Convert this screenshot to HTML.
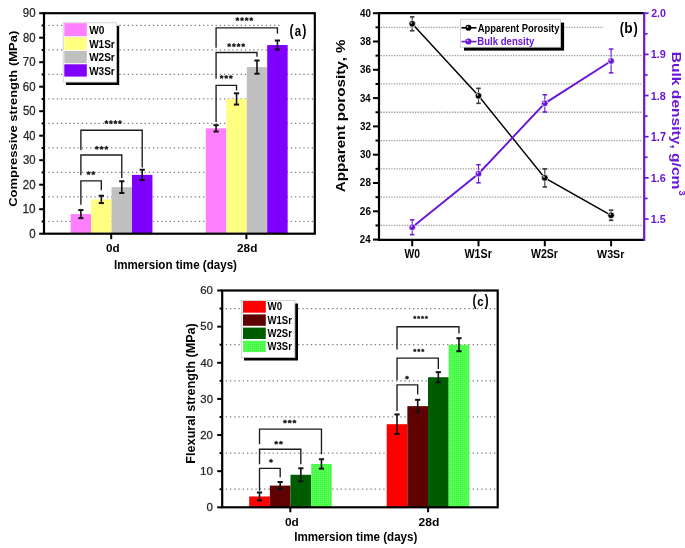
<!DOCTYPE html>
<html><head><meta charset="utf-8"><style>
html,body{margin:0;padding:0;background:#fff;}
body{width:685px;height:548px;overflow:hidden;}
svg{display:block;will-change:transform;filter:blur(0.3px);font-family:"Liberation Sans", sans-serif;font-kerning:none;}
</style></head><body>
<svg width="685" height="548" viewBox="0 0 685 548">
<defs><path id="st" d="M492 1135 727 1239 795 1042 545 981 731 768 547 647 401 899 252 647 66 770 256 981 6 1042 74 1239 313 1135 295 1409H510Z" fill="#111" stroke="#111" stroke-linejoin="round"/>
<pattern id="pW1" patternUnits="userSpaceOnUse" width="3" height="3"><rect width="3" height="3" fill="#5e0101"/><rect x="1" width="1" height="3" fill="#620202"/></pattern>
<pattern id="pW3" patternUnits="userSpaceOnUse" width="2" height="2"><rect width="2" height="2" fill="#55ff55"/><rect width="1" height="1" fill="#3ef23e"/></pattern>
</defs>
<rect width="685" height="548" fill="#fff"/>
<line x1="48.34" y1="221.45" x2="313.3" y2="221.45" stroke="#847c8c" stroke-width="1.25" stroke-dasharray="1.35 2.83"/>
<line x1="48.34" y1="196.95" x2="313.3" y2="196.95" stroke="#847c8c" stroke-width="1.25" stroke-dasharray="1.35 2.83"/>
<line x1="48.34" y1="172.45" x2="313.3" y2="172.45" stroke="#847c8c" stroke-width="1.25" stroke-dasharray="1.35 2.83"/>
<line x1="48.34" y1="147.95" x2="313.3" y2="147.95" stroke="#847c8c" stroke-width="1.25" stroke-dasharray="1.35 2.83"/>
<line x1="48.34" y1="123.45" x2="313.3" y2="123.45" stroke="#847c8c" stroke-width="1.25" stroke-dasharray="1.35 2.83"/>
<line x1="48.34" y1="98.95" x2="313.3" y2="98.95" stroke="#847c8c" stroke-width="1.25" stroke-dasharray="1.35 2.83"/>
<line x1="48.34" y1="74.45" x2="313.3" y2="74.45" stroke="#847c8c" stroke-width="1.25" stroke-dasharray="1.35 2.83"/>
<line x1="48.34" y1="49.95" x2="313.3" y2="49.95" stroke="#847c8c" stroke-width="1.25" stroke-dasharray="1.35 2.83"/>
<line x1="48.34" y1="25.45" x2="313.3" y2="25.45" stroke="#847c8c" stroke-width="1.25" stroke-dasharray="1.35 2.83"/>
<rect x="70.65" y="214.1" width="20.45" height="19.6" fill="#FF80FF"/>
<rect x="91.1" y="199.4" width="20.45" height="34.3" fill="#FFFF80"/>
<rect x="111.55" y="187.15" width="20.45" height="46.55" fill="#C0C0C0"/>
<rect x="132" y="174.9" width="20.45" height="58.8" fill="#8000FF"/>
<rect x="205.85" y="128.35" width="20.45" height="105.35" fill="#FF80FF"/>
<rect x="226.3" y="98.95" width="20.45" height="134.75" fill="#FFFF80"/>
<rect x="246.75" y="67.1" width="20.45" height="166.6" fill="#C0C0C0"/>
<rect x="267.2" y="45.05" width="20.45" height="188.65" fill="#8000FF"/>
<line x1="80.88" y1="210.06" x2="80.88" y2="218.14" stroke="#111" stroke-width="1.6"/>
<line x1="78.28" y1="210.06" x2="83.47" y2="210.06" stroke="#111" stroke-width="2"/>
<line x1="78.28" y1="218.14" x2="83.47" y2="218.14" stroke="#111" stroke-width="2"/>
<line x1="101.32" y1="195.72" x2="101.32" y2="203.07" stroke="#111" stroke-width="1.6"/>
<line x1="98.72" y1="195.72" x2="103.92" y2="195.72" stroke="#111" stroke-width="2"/>
<line x1="98.72" y1="203.07" x2="103.92" y2="203.07" stroke="#111" stroke-width="2"/>
<line x1="121.77" y1="181.27" x2="121.77" y2="193.03" stroke="#111" stroke-width="1.6"/>
<line x1="119.17" y1="181.27" x2="124.37" y2="181.27" stroke="#111" stroke-width="2"/>
<line x1="119.17" y1="193.03" x2="124.37" y2="193.03" stroke="#111" stroke-width="2"/>
<line x1="142.22" y1="169.75" x2="142.22" y2="180.04" stroke="#111" stroke-width="1.6"/>
<line x1="139.62" y1="169.75" x2="144.82" y2="169.75" stroke="#111" stroke-width="2"/>
<line x1="139.62" y1="180.04" x2="144.82" y2="180.04" stroke="#111" stroke-width="2"/>
<line x1="216.07" y1="125.16" x2="216.07" y2="131.53" stroke="#111" stroke-width="1.6"/>
<line x1="213.47" y1="125.16" x2="218.67" y2="125.16" stroke="#111" stroke-width="2"/>
<line x1="213.47" y1="131.53" x2="218.67" y2="131.53" stroke="#111" stroke-width="2"/>
<line x1="236.53" y1="93.31" x2="236.53" y2="104.58" stroke="#111" stroke-width="1.6"/>
<line x1="233.93" y1="93.31" x2="239.12" y2="93.31" stroke="#111" stroke-width="2"/>
<line x1="233.93" y1="104.58" x2="239.12" y2="104.58" stroke="#111" stroke-width="2"/>
<line x1="256.98" y1="60.48" x2="256.98" y2="73.71" stroke="#111" stroke-width="1.6"/>
<line x1="254.38" y1="60.48" x2="259.58" y2="60.48" stroke="#111" stroke-width="2"/>
<line x1="254.38" y1="73.71" x2="259.58" y2="73.71" stroke="#111" stroke-width="2"/>
<line x1="277.43" y1="40.52" x2="277.43" y2="49.58" stroke="#111" stroke-width="1.6"/>
<line x1="274.82" y1="40.52" x2="280.03" y2="40.52" stroke="#111" stroke-width="2"/>
<line x1="274.82" y1="49.58" x2="280.03" y2="49.58" stroke="#111" stroke-width="2"/>
<polyline points="80.88,204.7 80.88,180.8 101.32,180.8 101.32,190.2" fill="none" stroke="#1c1c1c" stroke-width="1.35"/>
<polyline points="80.88,175.3 80.88,155 121.77,155 121.77,178" fill="none" stroke="#1c1c1c" stroke-width="1.35"/>
<polyline points="80.88,150.1 80.88,130.2 142.22,130.2 142.22,167.6" fill="none" stroke="#1c1c1c" stroke-width="1.35"/>
<use href="#st" transform="translate(86.82,177.52) scale(0.00444,-0.00420)" stroke-width="115.8"/>
<use href="#st" transform="translate(91.52,177.52) scale(0.00444,-0.00420)" stroke-width="115.8"/>
<use href="#st" transform="translate(95.02,152.22) scale(0.00444,-0.00420)" stroke-width="115.8"/>
<use href="#st" transform="translate(99.77,152.22) scale(0.00444,-0.00420)" stroke-width="115.8"/>
<use href="#st" transform="translate(104.52,152.22) scale(0.00444,-0.00420)" stroke-width="115.8"/>
<use href="#st" transform="translate(104.62,126.52) scale(0.00444,-0.00420)" stroke-width="115.8"/>
<use href="#st" transform="translate(109.12,126.52) scale(0.00444,-0.00420)" stroke-width="115.8"/>
<use href="#st" transform="translate(113.62,126.52) scale(0.00444,-0.00420)" stroke-width="115.8"/>
<use href="#st" transform="translate(118.12,126.52) scale(0.00444,-0.00420)" stroke-width="115.8"/>
<polyline points="216.07,122 216.07,85.3 236.53,85.3 236.53,90.5" fill="none" stroke="#1c1c1c" stroke-width="1.35"/>
<polyline points="216.07,78.8 216.07,52.5 256.98,52.5 256.98,56.8" fill="none" stroke="#1c1c1c" stroke-width="1.35"/>
<polyline points="216.07,47.8 216.07,27.8 277.43,27.8 277.43,33.7" fill="none" stroke="#1c1c1c" stroke-width="1.35"/>
<use href="#st" transform="translate(219.82,81.32) scale(0.00444,-0.00420)" stroke-width="115.8"/>
<use href="#st" transform="translate(224.42,81.32) scale(0.00444,-0.00420)" stroke-width="115.8"/>
<use href="#st" transform="translate(229.02,81.32) scale(0.00444,-0.00420)" stroke-width="115.8"/>
<use href="#st" transform="translate(227.42,49.52) scale(0.00444,-0.00420)" stroke-width="115.8"/>
<use href="#st" transform="translate(232.09,49.52) scale(0.00444,-0.00420)" stroke-width="115.8"/>
<use href="#st" transform="translate(236.76,49.52) scale(0.00444,-0.00420)" stroke-width="115.8"/>
<use href="#st" transform="translate(241.43,49.52) scale(0.00444,-0.00420)" stroke-width="115.8"/>
<use href="#st" transform="translate(235.62,23.52) scale(0.00444,-0.00420)" stroke-width="115.8"/>
<use href="#st" transform="translate(240.25,23.52) scale(0.00444,-0.00420)" stroke-width="115.8"/>
<use href="#st" transform="translate(244.88,23.52) scale(0.00444,-0.00420)" stroke-width="115.8"/>
<use href="#st" transform="translate(249.51,23.52) scale(0.00444,-0.00420)" stroke-width="115.8"/>
<rect x="66" y="25.8" width="53.2" height="59.2" fill="#000"/>
<rect x="63.2" y="22.8" width="53.2" height="59.3" fill="#fff" stroke="#c8c8c8" stroke-width="0.8"/>
<rect x="64.3" y="23.2" width="22.5" height="13" fill="#FF80FF"/>
<text transform="translate(89.19,34) scale(1.0122,1)" font-size="10.03" font-weight="bold" fill="#000">W0</text>
<rect x="64.3" y="37.3" width="22.5" height="12.6" fill="#FFFF80"/>
<text transform="translate(89.19,47.9) scale(0.9972,1)" font-size="10.03" font-weight="bold" fill="#000">W1Sr</text>
<rect x="64.3" y="50.9" width="22.5" height="12.3" fill="#C0C0C0"/>
<text transform="translate(89.19,61.35) scale(0.9972,1)" font-size="10.03" font-weight="bold" fill="#000">W2Sr</text>
<rect x="64.3" y="64.3" width="22.5" height="12.3" fill="#8000FF"/>
<text transform="translate(89.19,74.74) scale(0.9992,1)" font-size="10.01" font-weight="bold" fill="#000">W3Sr</text>
<rect x="44" y="13.2" width="270.8" height="220.5" fill="none" stroke="#000" stroke-width="2.2"/>
<line x1="39.2" y1="233.7" x2="44" y2="233.7" stroke="#000" stroke-width="2"/>
<line x1="39.2" y1="209.2" x2="44" y2="209.2" stroke="#000" stroke-width="2"/>
<line x1="39.2" y1="184.7" x2="44" y2="184.7" stroke="#000" stroke-width="2"/>
<line x1="39.2" y1="160.2" x2="44" y2="160.2" stroke="#000" stroke-width="2"/>
<line x1="39.2" y1="135.7" x2="44" y2="135.7" stroke="#000" stroke-width="2"/>
<line x1="39.2" y1="111.2" x2="44" y2="111.2" stroke="#000" stroke-width="2"/>
<line x1="39.2" y1="86.7" x2="44" y2="86.7" stroke="#000" stroke-width="2"/>
<line x1="39.2" y1="62.2" x2="44" y2="62.2" stroke="#000" stroke-width="2"/>
<line x1="39.2" y1="37.7" x2="44" y2="37.7" stroke="#000" stroke-width="2"/>
<line x1="39.2" y1="13.2" x2="44" y2="13.2" stroke="#000" stroke-width="2"/>
<line x1="41.6" y1="221.45" x2="44" y2="221.45" stroke="#000" stroke-width="2"/>
<line x1="41.6" y1="196.95" x2="44" y2="196.95" stroke="#000" stroke-width="2"/>
<line x1="41.6" y1="172.45" x2="44" y2="172.45" stroke="#000" stroke-width="2"/>
<line x1="41.6" y1="147.95" x2="44" y2="147.95" stroke="#000" stroke-width="2"/>
<line x1="41.6" y1="123.45" x2="44" y2="123.45" stroke="#000" stroke-width="2"/>
<line x1="41.6" y1="98.95" x2="44" y2="98.95" stroke="#000" stroke-width="2"/>
<line x1="41.6" y1="74.45" x2="44" y2="74.45" stroke="#000" stroke-width="2"/>
<line x1="41.6" y1="49.95" x2="44" y2="49.95" stroke="#000" stroke-width="2"/>
<line x1="41.6" y1="25.45" x2="44" y2="25.45" stroke="#000" stroke-width="2"/>
<line x1="111.2" y1="233.7" x2="111.2" y2="239.2" stroke="#000" stroke-width="2"/>
<line x1="246.4" y1="233.7" x2="246.4" y2="239.2" stroke="#000" stroke-width="2"/>
<text transform="translate(29.15,237.78) scale(0.9698,1)" font-size="11.86" font-weight="normal" fill="#262626" stroke="#262626" stroke-width="0.25">0</text>
<text transform="translate(22.51,213.28) scale(0.9891,1)" font-size="11.86" font-weight="normal" fill="#262626" stroke="#262626" stroke-width="0.25">10</text>
<text transform="translate(22.82,188.78) scale(0.9640,1)" font-size="11.86" font-weight="normal" fill="#262626" stroke="#262626" stroke-width="0.25">20</text>
<text transform="translate(22.97,164.28) scale(0.9527,1)" font-size="11.86" font-weight="normal" fill="#262626" stroke="#262626" stroke-width="0.25">30</text>
<text transform="translate(23.14,139.78) scale(0.9389,1)" font-size="11.86" font-weight="normal" fill="#262626" stroke="#262626" stroke-width="0.25">40</text>
<text transform="translate(22.95,115.28) scale(0.9545,1)" font-size="11.86" font-weight="normal" fill="#262626" stroke="#262626" stroke-width="0.25">50</text>
<text transform="translate(22.82,90.78) scale(0.9645,1)" font-size="11.86" font-weight="normal" fill="#262626" stroke="#262626" stroke-width="0.25">60</text>
<text transform="translate(22.81,66.28) scale(0.9650,1)" font-size="11.86" font-weight="normal" fill="#262626" stroke="#262626" stroke-width="0.25">70</text>
<text transform="translate(22.91,41.78) scale(0.9576,1)" font-size="11.86" font-weight="normal" fill="#262626" stroke="#262626" stroke-width="0.25">80</text>
<text transform="translate(22.87,17.28) scale(0.9608,1)" font-size="11.86" font-weight="normal" fill="#262626" stroke="#262626" stroke-width="0.25">90</text>
<text transform="translate(105.94,252.29) scale(1.0212,1)" font-size="11.44" font-weight="bold" fill="#000">0d</text>
<text transform="translate(236.99,252.29) scale(1.0345,1)" font-size="11.44" font-weight="bold" fill="#000">28d</text>
<text transform="translate(113.92,268.68) scale(0.8858,1)" font-size="13.09" font-weight="bold" fill="#000">Immersion time (days)</text>
<text transform="translate(16.83,206.83) rotate(-90) scale(1.1164,1)" font-size="11.64" font-weight="bold" fill="#000">Compressive strength (MPa)</text>
<rect x="280.6" y="19" width="32.6" height="24" fill="#fff"/>
<text transform="translate(289.48,35.56) scale(0.7706,1)" font-size="16.09" font-weight="bold" fill="#000">(</text>
<text transform="translate(294.66,35.55) scale(0.7643,1)" font-size="14.97" font-weight="bold" fill="#000">a</text>
<text transform="translate(302.29,35.56) scale(0.7706,1)" font-size="16.09" font-weight="bold" fill="#000">)</text>
<line x1="380.5" y1="225.45" x2="642.7" y2="225.45" stroke="#a2a2a2" stroke-width="1.3" stroke-dasharray="1.4 1.25"/>
<line x1="380.5" y1="197.15" x2="642.7" y2="197.15" stroke="#a2a2a2" stroke-width="1.3" stroke-dasharray="1.4 1.25"/>
<line x1="380.5" y1="168.85" x2="642.7" y2="168.85" stroke="#a2a2a2" stroke-width="1.3" stroke-dasharray="1.4 1.25"/>
<line x1="380.5" y1="140.55" x2="642.7" y2="140.55" stroke="#a2a2a2" stroke-width="1.3" stroke-dasharray="1.4 1.25"/>
<line x1="380.5" y1="112.25" x2="642.7" y2="112.25" stroke="#a2a2a2" stroke-width="1.3" stroke-dasharray="1.4 1.25"/>
<line x1="380.5" y1="83.95" x2="642.7" y2="83.95" stroke="#a2a2a2" stroke-width="1.3" stroke-dasharray="1.4 1.25"/>
<line x1="380.5" y1="55.65" x2="642.7" y2="55.65" stroke="#a2a2a2" stroke-width="1.3" stroke-dasharray="1.4 1.25"/>
<line x1="380.5" y1="27.35" x2="642.7" y2="27.35" stroke="#a2a2a2" stroke-width="1.3" stroke-dasharray="1.4 1.25"/>
<rect x="603.6" y="16" width="39.4" height="26" fill="#fff"/>
<rect x="464" y="22.6" width="100.1" height="28" fill="#000"/>
<rect x="460.5" y="19.2" width="100.1" height="28" fill="#fff" stroke="#c8c8c8" stroke-width="0.8"/>
<line x1="461.5" y1="27.8" x2="476.5" y2="27.8" stroke="#000" stroke-width="1.6"/>
<circle cx="468.4" cy="27.8" r="3" fill="#000"/>
<circle cx="467.6" cy="26.9" r="0.9" fill="#bbb"/>
<line x1="461.5" y1="41.6" x2="476.5" y2="41.6" stroke="#6A16D8" stroke-width="1.6"/>
<circle cx="468.4" cy="41.6" r="3" fill="#6A16D8"/>
<circle cx="467.6" cy="40.7" r="0.9" fill="#d8b0ff"/>
<text transform="translate(477.77,31.71) scale(0.8539,1)" font-size="11.05" font-weight="bold" fill="#000">Apparent Porosity</text>
<text transform="translate(477.36,44.51) scale(0.8675,1)" font-size="11.05" font-weight="bold" fill="#6A16D8">Bulk density</text>
<polyline points="412.2,23.81 478.5,95.84 544.8,177.91 611.1,215.26" fill="none" stroke="#000" stroke-width="1.45"/>
<polyline points="412.2,227.25 478.5,173.74 544.8,103.36 611.1,60.97" fill="none" stroke="#6A16D8" stroke-width="1.9"/>
<line x1="412.2" y1="16.88" x2="412.2" y2="30.75" stroke="#3a3a3a" stroke-width="1.1"/>
<line x1="409.95" y1="16.88" x2="414.45" y2="16.88" stroke="#3a3a3a" stroke-width="1.6"/>
<line x1="409.95" y1="30.75" x2="414.45" y2="30.75" stroke="#3a3a3a" stroke-width="1.6"/>
<circle cx="412.2" cy="23.81" r="3.3" fill="#000" stroke="#fff" stroke-width="0.7"/>
<circle cx="411.3" cy="22.81" r="0.9" fill="#bbb"/>
<line x1="412.2" y1="219.84" x2="412.2" y2="234.66" stroke="#6A16D8" stroke-width="1.1"/>
<line x1="409.95" y1="219.84" x2="414.45" y2="219.84" stroke="#6A16D8" stroke-width="1.5"/>
<line x1="409.95" y1="234.66" x2="414.45" y2="234.66" stroke="#6A16D8" stroke-width="1.5"/>
<circle cx="412.2" cy="227.25" r="3.3" fill="#6A16D8" stroke="#fff" stroke-width="0.7"/>
<circle cx="411.3" cy="226.25" r="0.9" fill="#d8b0ff"/>
<line x1="478.5" y1="88.34" x2="478.5" y2="103.34" stroke="#3a3a3a" stroke-width="1.1"/>
<line x1="476.25" y1="88.34" x2="480.75" y2="88.34" stroke="#3a3a3a" stroke-width="1.6"/>
<line x1="476.25" y1="103.34" x2="480.75" y2="103.34" stroke="#3a3a3a" stroke-width="1.6"/>
<circle cx="478.5" cy="95.84" r="3.3" fill="#000" stroke="#fff" stroke-width="0.7"/>
<circle cx="477.6" cy="94.84" r="0.9" fill="#bbb"/>
<line x1="478.5" y1="164.69" x2="478.5" y2="182.8" stroke="#6A16D8" stroke-width="1.1"/>
<line x1="476.25" y1="164.69" x2="480.75" y2="164.69" stroke="#6A16D8" stroke-width="1.5"/>
<line x1="476.25" y1="182.8" x2="480.75" y2="182.8" stroke="#6A16D8" stroke-width="1.5"/>
<circle cx="478.5" cy="173.74" r="3.3" fill="#6A16D8" stroke="#fff" stroke-width="0.7"/>
<circle cx="477.6" cy="172.74" r="0.9" fill="#d8b0ff"/>
<line x1="544.8" y1="168.85" x2="544.8" y2="186.96" stroke="#3a3a3a" stroke-width="1.1"/>
<line x1="542.55" y1="168.85" x2="547.05" y2="168.85" stroke="#3a3a3a" stroke-width="1.6"/>
<line x1="542.55" y1="186.96" x2="547.05" y2="186.96" stroke="#3a3a3a" stroke-width="1.6"/>
<circle cx="544.8" cy="177.91" r="3.3" fill="#000" stroke="#fff" stroke-width="0.7"/>
<circle cx="543.9" cy="176.91" r="0.9" fill="#bbb"/>
<line x1="544.8" y1="94.72" x2="544.8" y2="112" stroke="#6A16D8" stroke-width="1.1"/>
<line x1="542.55" y1="94.72" x2="547.05" y2="94.72" stroke="#6A16D8" stroke-width="1.5"/>
<line x1="542.55" y1="112" x2="547.05" y2="112" stroke="#6A16D8" stroke-width="1.5"/>
<circle cx="544.8" cy="103.36" r="3.3" fill="#6A16D8" stroke="#fff" stroke-width="0.7"/>
<circle cx="543.9" cy="102.36" r="0.9" fill="#d8b0ff"/>
<line x1="611.1" y1="210.17" x2="611.1" y2="220.36" stroke="#3a3a3a" stroke-width="1.1"/>
<line x1="608.85" y1="210.17" x2="613.35" y2="210.17" stroke="#3a3a3a" stroke-width="1.6"/>
<line x1="608.85" y1="220.36" x2="613.35" y2="220.36" stroke="#3a3a3a" stroke-width="1.6"/>
<circle cx="611.1" cy="215.26" r="3.3" fill="#000" stroke="#fff" stroke-width="0.7"/>
<circle cx="610.2" cy="214.26" r="0.9" fill="#bbb"/>
<line x1="611.1" y1="49.03" x2="611.1" y2="72.9" stroke="#6A16D8" stroke-width="1.1"/>
<line x1="608.85" y1="49.03" x2="613.35" y2="49.03" stroke="#6A16D8" stroke-width="1.5"/>
<line x1="608.85" y1="72.9" x2="613.35" y2="72.9" stroke="#6A16D8" stroke-width="1.5"/>
<circle cx="611.1" cy="60.97" r="3.3" fill="#6A16D8" stroke="#fff" stroke-width="0.7"/>
<circle cx="610.2" cy="59.97" r="0.9" fill="#d8b0ff"/>
<line x1="377.9" y1="13.2" x2="644.2" y2="13.2" stroke="#000" stroke-width="2.2"/>
<line x1="377.9" y1="239.9" x2="644.2" y2="239.9" stroke="#000" stroke-width="2.2"/>
<line x1="379" y1="13.2" x2="379" y2="239.9" stroke="#000" stroke-width="2.2"/>
<line x1="644.2" y1="12.1" x2="644.2" y2="241" stroke="#6A16D8" stroke-width="2.2"/>
<line x1="373" y1="239.6" x2="379" y2="239.6" stroke="#000" stroke-width="2"/>
<line x1="373" y1="211.3" x2="379" y2="211.3" stroke="#000" stroke-width="2"/>
<line x1="373" y1="183" x2="379" y2="183" stroke="#000" stroke-width="2"/>
<line x1="373" y1="154.7" x2="379" y2="154.7" stroke="#000" stroke-width="2"/>
<line x1="373" y1="126.4" x2="379" y2="126.4" stroke="#000" stroke-width="2"/>
<line x1="373" y1="98.1" x2="379" y2="98.1" stroke="#000" stroke-width="2"/>
<line x1="373" y1="69.8" x2="379" y2="69.8" stroke="#000" stroke-width="2"/>
<line x1="373" y1="41.5" x2="379" y2="41.5" stroke="#000" stroke-width="2"/>
<line x1="373" y1="13.2" x2="379" y2="13.2" stroke="#000" stroke-width="2"/>
<line x1="375.5" y1="225.45" x2="379" y2="225.45" stroke="#000" stroke-width="2"/>
<line x1="375.5" y1="197.15" x2="379" y2="197.15" stroke="#000" stroke-width="2"/>
<line x1="375.5" y1="168.85" x2="379" y2="168.85" stroke="#000" stroke-width="2"/>
<line x1="375.5" y1="140.55" x2="379" y2="140.55" stroke="#000" stroke-width="2"/>
<line x1="375.5" y1="112.25" x2="379" y2="112.25" stroke="#000" stroke-width="2"/>
<line x1="375.5" y1="83.95" x2="379" y2="83.95" stroke="#000" stroke-width="2"/>
<line x1="375.5" y1="55.65" x2="379" y2="55.65" stroke="#000" stroke-width="2"/>
<line x1="375.5" y1="27.35" x2="379" y2="27.35" stroke="#000" stroke-width="2"/>
<line x1="644.2" y1="219.02" x2="648.6" y2="219.02" stroke="#6A16D8" stroke-width="1.7"/>
<line x1="644.2" y1="177.86" x2="648.6" y2="177.86" stroke="#6A16D8" stroke-width="1.7"/>
<line x1="644.2" y1="136.7" x2="648.6" y2="136.7" stroke="#6A16D8" stroke-width="1.7"/>
<line x1="644.2" y1="95.54" x2="648.6" y2="95.54" stroke="#6A16D8" stroke-width="1.7"/>
<line x1="644.2" y1="54.38" x2="648.6" y2="54.38" stroke="#6A16D8" stroke-width="1.7"/>
<line x1="644.2" y1="13.22" x2="648.6" y2="13.22" stroke="#6A16D8" stroke-width="1.7"/>
<line x1="644.2" y1="198.44" x2="647.6" y2="198.44" stroke="#6A16D8" stroke-width="1.7"/>
<line x1="644.2" y1="157.28" x2="647.6" y2="157.28" stroke="#6A16D8" stroke-width="1.7"/>
<line x1="644.2" y1="116.12" x2="647.6" y2="116.12" stroke="#6A16D8" stroke-width="1.7"/>
<line x1="644.2" y1="74.96" x2="647.6" y2="74.96" stroke="#6A16D8" stroke-width="1.7"/>
<line x1="644.2" y1="33.8" x2="647.6" y2="33.8" stroke="#6A16D8" stroke-width="1.7"/>
<line x1="412.2" y1="239.9" x2="412.2" y2="246.3" stroke="#000" stroke-width="2"/>
<line x1="478.5" y1="239.9" x2="478.5" y2="246.3" stroke="#000" stroke-width="2"/>
<line x1="544.8" y1="239.9" x2="544.8" y2="246.3" stroke="#000" stroke-width="2"/>
<line x1="611.1" y1="239.9" x2="611.1" y2="246.3" stroke="#000" stroke-width="2"/>
<text transform="translate(359.86,243.2) scale(0.8361,1)" font-size="11.6" font-weight="bold" fill="#000">24</text>
<text transform="translate(359.85,214.79) scale(0.8728,1)" font-size="11.44" font-weight="bold" fill="#000">26</text>
<text transform="translate(359.86,186.49) scale(0.8683,1)" font-size="11.44" font-weight="bold" fill="#000">28</text>
<text transform="translate(359.97,158.17) scale(0.8689,1)" font-size="11.42" font-weight="bold" fill="#000">30</text>
<text transform="translate(359.97,129.87) scale(0.8681,1)" font-size="11.42" font-weight="bold" fill="#000">32</text>
<text transform="translate(359.98,101.57) scale(0.8404,1)" font-size="11.42" font-weight="bold" fill="#000">34</text>
<text transform="translate(359.97,73.27) scale(0.8649,1)" font-size="11.42" font-weight="bold" fill="#000">36</text>
<text transform="translate(359.97,44.97) scale(0.8605,1)" font-size="11.42" font-weight="bold" fill="#000">38</text>
<text transform="translate(360.05,16.69) scale(0.8607,1)" font-size="11.44" font-weight="bold" fill="#000">40</text>
<text transform="translate(650.82,223.01) scale(0.9169,1)" font-size="11.75" font-weight="bold" fill="#6A16D8">1.5</text>
<text transform="translate(650.82,181.85) scale(0.9363,1)" font-size="11.58" font-weight="bold" fill="#6A16D8">1.6</text>
<text transform="translate(650.81,140.8) scale(0.9154,1)" font-size="11.92" font-weight="bold" fill="#6A16D8">1.7</text>
<text transform="translate(650.82,99.53) scale(0.9324,1)" font-size="11.58" font-weight="bold" fill="#6A16D8">1.8</text>
<text transform="translate(650.82,58.37) scale(0.9370,1)" font-size="11.58" font-weight="bold" fill="#6A16D8">1.9</text>
<text transform="translate(651.13,17.21) scale(0.9196,1)" font-size="11.58" font-weight="bold" fill="#6A16D8">2.0</text>
<text transform="translate(404.39,258.38) scale(0.8729,1)" font-size="11.86" font-weight="bold" fill="#000">W0</text>
<text transform="translate(464.49,258.38) scale(0.9026,1)" font-size="11.86" font-weight="bold" fill="#000">W1Sr</text>
<text transform="translate(530.99,258.38) scale(0.8893,1)" font-size="11.86" font-weight="bold" fill="#000">W2Sr</text>
<text transform="translate(597.09,258.37) scale(0.9045,1)" font-size="11.84" font-weight="bold" fill="#000">W3Sr</text>
<text transform="translate(344.67,192.28) rotate(-90) scale(1.2024,1)" font-size="12.66" font-weight="bold" fill="#000">Apparent porosity, %</text>
<text transform="translate(671.96,51.76) rotate(90) scale(1.1973,1)" font-size="13.03" font-weight="bold" fill="#6A16D8">Bulk density, g/cm</text>
<text transform="translate(679.3,190.39) rotate(90) scale(1.0422,1)" font-size="8.88" font-weight="bold" fill="#6A16D8">3</text>
<text transform="translate(619.66,33.89) scale(0.7771,1)" font-size="16.41" font-weight="bold" fill="#000">(</text>
<text transform="translate(624.2,33.26) scale(0.9577,1)" font-size="14.3" font-weight="bold" fill="#000">b</text>
<text transform="translate(633.39,33.89) scale(0.7771,1)" font-size="16.41" font-weight="bold" fill="#000">)</text>
<line x1="225.68" y1="489.24" x2="496.2" y2="489.24" stroke="#847c8c" stroke-width="1.25" stroke-dasharray="1.35 2.908"/>
<line x1="225.68" y1="453.11" x2="496.2" y2="453.11" stroke="#847c8c" stroke-width="1.25" stroke-dasharray="1.35 2.908"/>
<line x1="225.68" y1="416.98" x2="496.2" y2="416.98" stroke="#847c8c" stroke-width="1.25" stroke-dasharray="1.35 2.908"/>
<line x1="225.68" y1="380.85" x2="496.2" y2="380.85" stroke="#847c8c" stroke-width="1.25" stroke-dasharray="1.35 2.908"/>
<line x1="225.68" y1="344.72" x2="496.2" y2="344.72" stroke="#847c8c" stroke-width="1.25" stroke-dasharray="1.35 2.908"/>
<line x1="225.68" y1="308.59" x2="496.2" y2="308.59" stroke="#847c8c" stroke-width="1.25" stroke-dasharray="1.35 2.908"/>
<rect x="249.2" y="496.46" width="20.65" height="10.84" fill="#FF0000"/>
<rect x="269.85" y="485.62" width="20.65" height="21.68" fill="url(#pW1)"/>
<rect x="290.5" y="474.78" width="20.65" height="32.52" fill="#005C00"/>
<rect x="311.15" y="463.94" width="20.65" height="43.36" fill="url(#pW3)"/>
<rect x="386.7" y="424.2" width="20.65" height="83.1" fill="#FF0000"/>
<rect x="407.35" y="406.14" width="20.65" height="101.16" fill="url(#pW1)"/>
<rect x="428" y="377.23" width="20.65" height="130.07" fill="#005C00"/>
<rect x="448.65" y="344.72" width="20.65" height="162.58" fill="url(#pW3)"/>
<line x1="259.52" y1="492.49" x2="259.52" y2="500.44" stroke="#111" stroke-width="1.6"/>
<line x1="256.92" y1="492.49" x2="262.12" y2="492.49" stroke="#111" stroke-width="2"/>
<line x1="256.92" y1="500.44" x2="262.12" y2="500.44" stroke="#111" stroke-width="2"/>
<line x1="280.18" y1="482.01" x2="280.18" y2="489.24" stroke="#111" stroke-width="1.6"/>
<line x1="277.57" y1="482.01" x2="282.78" y2="482.01" stroke="#111" stroke-width="2"/>
<line x1="277.57" y1="489.24" x2="282.78" y2="489.24" stroke="#111" stroke-width="2"/>
<line x1="300.82" y1="468.28" x2="300.82" y2="481.29" stroke="#111" stroke-width="1.6"/>
<line x1="298.22" y1="468.28" x2="303.43" y2="468.28" stroke="#111" stroke-width="2"/>
<line x1="298.22" y1="481.29" x2="303.43" y2="481.29" stroke="#111" stroke-width="2"/>
<line x1="321.47" y1="459.25" x2="321.47" y2="468.64" stroke="#111" stroke-width="1.6"/>
<line x1="318.87" y1="459.25" x2="324.07" y2="459.25" stroke="#111" stroke-width="2"/>
<line x1="318.87" y1="468.64" x2="324.07" y2="468.64" stroke="#111" stroke-width="2"/>
<line x1="397.02" y1="414.45" x2="397.02" y2="433.96" stroke="#111" stroke-width="1.6"/>
<line x1="394.42" y1="414.45" x2="399.62" y2="414.45" stroke="#111" stroke-width="2"/>
<line x1="394.42" y1="433.96" x2="399.62" y2="433.96" stroke="#111" stroke-width="2"/>
<line x1="417.68" y1="399.81" x2="417.68" y2="412.46" stroke="#111" stroke-width="1.6"/>
<line x1="415.07" y1="399.81" x2="420.28" y2="399.81" stroke="#111" stroke-width="2"/>
<line x1="415.07" y1="412.46" x2="420.28" y2="412.46" stroke="#111" stroke-width="2"/>
<line x1="438.32" y1="372.17" x2="438.32" y2="382.29" stroke="#111" stroke-width="1.6"/>
<line x1="435.72" y1="372.17" x2="440.93" y2="372.17" stroke="#111" stroke-width="2"/>
<line x1="435.72" y1="382.29" x2="440.93" y2="382.29" stroke="#111" stroke-width="2"/>
<line x1="458.97" y1="338.21" x2="458.97" y2="351.22" stroke="#111" stroke-width="1.6"/>
<line x1="456.37" y1="338.21" x2="461.57" y2="338.21" stroke="#111" stroke-width="2"/>
<line x1="456.37" y1="351.22" x2="461.57" y2="351.22" stroke="#111" stroke-width="2"/>
<polyline points="259.52,490.8 259.52,468.3 280.18,468.3 280.18,477.3" fill="none" stroke="#1c1c1c" stroke-width="1.35"/>
<polyline points="259.52,464.3 259.52,449.2 300.82,449.2 300.82,464.3" fill="none" stroke="#1c1c1c" stroke-width="1.35"/>
<polyline points="259.52,444.2 259.52,429.1 321.47,429.1 321.47,454.2" fill="none" stroke="#1c1c1c" stroke-width="1.35"/>
<use href="#st" transform="translate(269.17,465.08) scale(0.00456,-0.00407)" stroke-width="115.9"/>
<use href="#st" transform="translate(274.37,446.98) scale(0.00456,-0.00407)" stroke-width="115.9"/>
<use href="#st" transform="translate(279.07,446.98) scale(0.00456,-0.00407)" stroke-width="115.9"/>
<use href="#st" transform="translate(283.17,425.78) scale(0.00456,-0.00407)" stroke-width="115.9"/>
<use href="#st" transform="translate(287.87,425.78) scale(0.00456,-0.00407)" stroke-width="115.9"/>
<use href="#st" transform="translate(292.57,425.78) scale(0.00456,-0.00407)" stroke-width="115.9"/>
<polyline points="397.02,411 397.02,384.8 417.68,384.8 417.68,394.4" fill="none" stroke="#1c1c1c" stroke-width="1.35"/>
<polyline points="397.02,380.3 397.02,358.1 438.32,358.1 438.32,368.9" fill="none" stroke="#1c1c1c" stroke-width="1.35"/>
<polyline points="397.02,349.5 397.02,326.7 458.97,326.7 458.97,333.5" fill="none" stroke="#1c1c1c" stroke-width="1.35"/>
<use href="#st" transform="translate(405.27,381.78) scale(0.00431,-0.00407)" stroke-width="119.4"/>
<use href="#st" transform="translate(413.38,354.04) scale(0.00355,-0.00354)" stroke-width="141.0"/>
<use href="#st" transform="translate(417.38,354.04) scale(0.00355,-0.00354)" stroke-width="141.0"/>
<use href="#st" transform="translate(421.38,354.04) scale(0.00355,-0.00354)" stroke-width="141.0"/>
<use href="#st" transform="translate(413.43,320.91) scale(0.00342,-0.00341)" stroke-width="146.3"/>
<use href="#st" transform="translate(417.30,320.91) scale(0.00342,-0.00341)" stroke-width="146.3"/>
<use href="#st" transform="translate(421.17,320.91) scale(0.00342,-0.00341)" stroke-width="146.3"/>
<use href="#st" transform="translate(425.04,320.91) scale(0.00342,-0.00341)" stroke-width="146.3"/>
<rect x="244" y="303.5" width="54" height="57" fill="#000"/>
<rect x="241.3" y="300.4" width="53.6" height="57" fill="#fff" stroke="#c8c8c8" stroke-width="0.8"/>
<rect x="243" y="301" width="22.8" height="11.7" fill="#FF0000"/>
<text transform="translate(267.59,310.35) scale(0.9712,1)" font-size="10.03" font-weight="bold" fill="#000">W0</text>
<rect x="243" y="314.4" width="22.8" height="11.4" fill="url(#pW1)"/>
<text transform="translate(267.59,323.6) scale(0.9501,1)" font-size="10.03" font-weight="bold" fill="#000">W1Sr</text>
<rect x="243" y="327.6" width="22.8" height="11.4" fill="#005C00"/>
<text transform="translate(267.59,336.8) scale(0.9501,1)" font-size="10.03" font-weight="bold" fill="#000">W2Sr</text>
<rect x="243" y="340.7" width="22.8" height="11.4" fill="url(#pW3)"/>
<text transform="translate(267.59,349.89) scale(0.9520,1)" font-size="10.01" font-weight="bold" fill="#000">W3Sr</text>
<rect x="222.2" y="290.5" width="275.5" height="216.8" fill="none" stroke="#000" stroke-width="2.2"/>
<line x1="217.2" y1="507.3" x2="222.2" y2="507.3" stroke="#000" stroke-width="2"/>
<line x1="217.2" y1="471.17" x2="222.2" y2="471.17" stroke="#000" stroke-width="2"/>
<line x1="217.2" y1="435.04" x2="222.2" y2="435.04" stroke="#000" stroke-width="2"/>
<line x1="217.2" y1="398.91" x2="222.2" y2="398.91" stroke="#000" stroke-width="2"/>
<line x1="217.2" y1="362.78" x2="222.2" y2="362.78" stroke="#000" stroke-width="2"/>
<line x1="217.2" y1="326.65" x2="222.2" y2="326.65" stroke="#000" stroke-width="2"/>
<line x1="217.2" y1="290.52" x2="222.2" y2="290.52" stroke="#000" stroke-width="2"/>
<line x1="219.6" y1="489.24" x2="222.2" y2="489.24" stroke="#000" stroke-width="2"/>
<line x1="219.6" y1="453.11" x2="222.2" y2="453.11" stroke="#000" stroke-width="2"/>
<line x1="219.6" y1="416.98" x2="222.2" y2="416.98" stroke="#000" stroke-width="2"/>
<line x1="219.6" y1="380.85" x2="222.2" y2="380.85" stroke="#000" stroke-width="2"/>
<line x1="219.6" y1="344.72" x2="222.2" y2="344.72" stroke="#000" stroke-width="2"/>
<line x1="219.6" y1="308.59" x2="222.2" y2="308.59" stroke="#000" stroke-width="2"/>
<line x1="290.3" y1="507.3" x2="290.3" y2="512.3" stroke="#000" stroke-width="2"/>
<line x1="428.1" y1="507.3" x2="428.1" y2="512.3" stroke="#000" stroke-width="2"/>
<text transform="translate(206.55,511.09) scale(1.0444,1)" font-size="11.02" font-weight="normal" fill="#262626" stroke="#262626" stroke-width="0.25">0</text>
<text transform="translate(199.91,474.96) scale(1.0651,1)" font-size="11.02" font-weight="normal" fill="#262626" stroke="#262626" stroke-width="0.25">10</text>
<text transform="translate(200.22,438.83) scale(1.0382,1)" font-size="11.02" font-weight="normal" fill="#262626" stroke="#262626" stroke-width="0.25">20</text>
<text transform="translate(200.37,402.7) scale(1.0259,1)" font-size="11.02" font-weight="normal" fill="#262626" stroke="#262626" stroke-width="0.25">30</text>
<text transform="translate(200.54,366.57) scale(1.0112,1)" font-size="11.02" font-weight="normal" fill="#262626" stroke="#262626" stroke-width="0.25">40</text>
<text transform="translate(200.35,330.44) scale(1.0279,1)" font-size="11.02" font-weight="normal" fill="#262626" stroke="#262626" stroke-width="0.25">50</text>
<text transform="translate(200.22,294.31) scale(1.0387,1)" font-size="11.02" font-weight="normal" fill="#262626" stroke="#262626" stroke-width="0.25">60</text>
<text transform="translate(285.03,525.69) scale(1.0377,1)" font-size="11.44" font-weight="bold" fill="#000">0d</text>
<text transform="translate(418.58,525.69) scale(1.0615,1)" font-size="11.44" font-weight="bold" fill="#000">28d</text>
<text transform="translate(294.22,540.93) scale(0.9020,1)" font-size="12.87" font-weight="bold" fill="#000">Immersion time (days)</text>
<text transform="translate(195.17,463.65) rotate(-90) scale(1.0585,1)" font-size="11.96" font-weight="bold" fill="#000">Flexural strength (MPa)</text>
<text transform="translate(472.5,306.41) scale(0.7587,1)" font-size="15.88" font-weight="bold" fill="#000">(</text>
<text transform="translate(477.25,306.38) scale(0.9530,1)" font-size="12.05" font-weight="bold" fill="#000">c</text>
<text transform="translate(484.39,306.41) scale(0.7811,1)" font-size="15.88" font-weight="bold" fill="#000">)</text>
</svg>
</body></html>
